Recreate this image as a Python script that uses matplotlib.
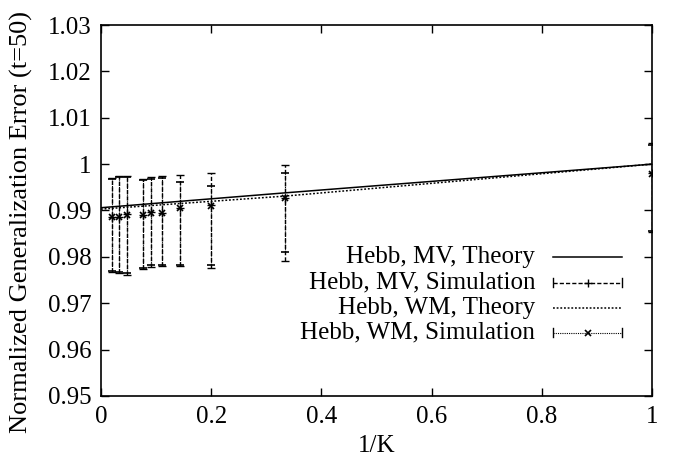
import numpy as np
import matplotlib
import matplotlib.pyplot as plt
from matplotlib.lines import Line2D

font = {'family': 'Liberation Serif', 'weight': 'normal', 'size': 18}
matplotlib.rc('font', **font)

# 1/K values of the simulations
inv_k = [1/51, 1/31, 1/21, 1/13, 1/11, 1/9, 1/7, 1/5, 1/3, 1.0]

# theory curves
theory_x = [0.0, 1/3, 1.0]
mv_theory = [0.9906, 0.9938, 1.0000]
wm_theory = [0.9903, 0.9931, 1.0000]

# simulation means and error bar ends
mv_sim = [0.9887, 0.9887, 0.9892, 0.9891, 0.9896, 0.9895, 0.9906, 0.9911, 0.9927, 0.9980]
mv_low = [0.9767, 0.9765, 0.9760, 0.9774, 0.9779, 0.9780, 0.9780, 0.9775, 0.9791, 0.9853]
mv_high = [0.9971, 0.9975, 0.9975, 0.9968, 0.9972, 0.9974, 0.9976, 0.9980, 0.9999, 1.0045]

wm_sim = [0.9886, 0.9886, 0.9891, 0.9890, 0.9895, 0.9894, 0.9905, 0.9910, 0.9926, 0.9979]
wm_low = [0.9769, 0.9768, 0.9766, 0.9776, 0.9782, 0.9783, 0.9783, 0.9782, 0.9810, 0.9856]
wm_high = [0.9969, 0.9972, 0.9972, 0.9966, 0.9969, 0.9970, 0.9962, 0.9952, 0.9981, 1.0042]

labels = ['Hebb, MV, Theory', 'Hebb, MV, Simulation',
          'Hebb, WM, Theory', 'Hebb, WM, Simulation']

fig = plt.figure(figsize=(6.8, 4.59), dpi=100)
ax = fig.add_axes([0.1485, 0.1373, 0.8105, 0.8082])

ax.plot(theory_x, mv_theory, color='black', lw=1.1)
ax.plot(theory_x, wm_theory, color='black', lw=1.1, dashes=(1.2, 1.2))

mv = np.array(mv_sim)
wm = np.array(wm_sim)
eb1 = ax.errorbar(inv_k, mv, yerr=[mv - np.array(mv_low), np.array(mv_high) - mv],
                  fmt='+', color='black', ms=6, mew=1, elinewidth=1, capsize=3)
eb1[2][0].set_linestyle((0, (3, 1.5)))
eb2 = ax.errorbar(inv_k, wm, yerr=[wm - np.array(wm_low), np.array(wm_high) - wm],
                  fmt='x', color='black', ms=5, mew=1.2, elinewidth=0.8, capsize=3)
eb2[2][0].set_linestyle((0, (1, 1)))

ax.set_xlim(0, 1)
ax.set_ylim(0.95, 1.03)
ax.set_xticks([0, 0.2, 0.4, 0.6, 0.8, 1])
ax.set_xticklabels(['0', '0.2', '0.4', '0.6', '0.8', '1'])
yt = [0.95, 0.96, 0.97, 0.98, 0.99, 1.0, 1.01, 1.02, 1.03]
ax.set_yticks(yt)
ax.set_yticklabels(['%g' % v for v in yt])
ax.tick_params(direction='in', top=True, right=True, length=6, width=1, pad=7)
for s in ax.spines.values():
    s.set_linewidth(1.2)

ax.set_xlabel('1/K', labelpad=5)
ax.set_ylabel('Normalized Generalization Error (t=50)', fontsize=19, va='center')
ax.yaxis.set_label_coords(-0.145, 0.47)

# gnuplot style key: text right-aligned, sample on the right
tr = ax.transAxes
rows = [0.375, 0.305, 0.237, 0.170]
for lab, yy in zip(labels, rows):
    ax.text(0.788, yy, lab, transform=tr, ha='right', va='center')
ax.add_line(Line2D([0.82, 0.946], [rows[0]] * 2, transform=tr, color='black', lw=1.1))
ax.add_line(Line2D([0.82, 0.946], [rows[1]] * 2, transform=tr, color='black', lw=1, dashes=(3, 1.5)))
ax.plot([0.883], [rows[1]], '+', color='black', ms=6, transform=tr)
ax.add_line(Line2D([0.82, 0.946], [rows[2]] * 2, transform=tr, color='black', lw=1.1, dashes=(1.2, 1.2)))
ax.add_line(Line2D([0.82, 0.946], [rows[3]] * 2, transform=tr, color='black', lw=0.8, dashes=(1, 1)))
ax.plot([0.883], [rows[3]], 'x', color='black', ms=5, mew=1.2, transform=tr)
for yy in (rows[1], rows[3]):
    for xx in (0.82, 0.946):
        ax.add_line(Line2D([xx, xx], [yy - 0.012, yy + 0.012], transform=tr, color='black', lw=1))

plt.savefig('out.png', dpi=100)
